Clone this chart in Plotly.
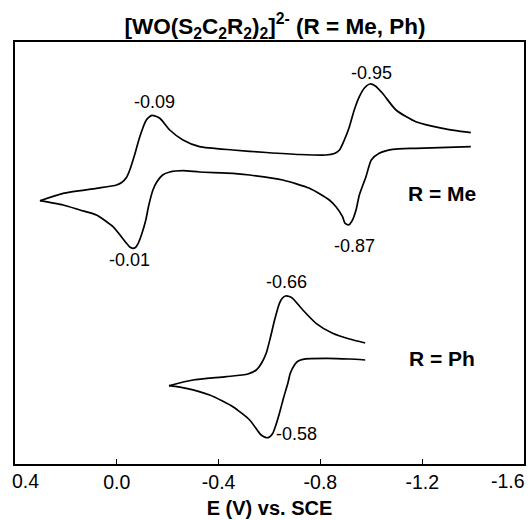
import plotly.graph_objects as go

# Potentials (V vs SCE) and current (arbitrary units)
me_fwd_E = [0.302, 0.211, 0.080, 0.001, -0.019, -0.038, -0.051, -0.071, -0.090, -0.116, -0.138, -0.169, -0.208,
            -0.260, -0.325, -0.456, -0.587, -0.718, -0.822, -0.855, -0.875, -0.894, -0.914, -0.933,
            -0.953, -0.973, -0.995, -1.016, -1.044, -1.097, -1.175, -1.280, -1.391]
me_fwd_I = [263.3, 270.7, 275.7, 279, 281.5, 286.5, 294, 310, 327, 344, 348.7, 345.7, 334,
            324, 317.3, 314, 311.5, 309.5, 309, 310.5, 314, 324, 337.3, 354,
            367.3, 376, 380, 378, 370.7, 354, 342.3, 335.7, 331.3]
me_rev_E = [-1.391, -1.175, -1.084, -1.031, -1.000, -0.979, -0.953, -0.940, -0.924, -0.910, -0.896,
            -0.887, -0.862, -0.835, -0.757, -0.652, -0.522, -0.456, -0.325, -0.260, -0.208, -0.180,
            -0.157, -0.142, -0.125, -0.114, -0.098, -0.084, -0.073, -0.063, -0.051, -0.038, 0.015,
            0.080, 0.145, 0.211, 0.302]
me_rev_I = [317.3, 315.7, 314.7, 310.7, 304, 287.3, 269, 254, 243, 239, 241,
            247.3, 257, 264, 275.7, 284, 289, 290.7, 292, 293.3, 292, 289,
            282, 274, 258, 244, 230, 220.7, 216.5, 215.7, 217, 220.7, 237.3,
            249, 254, 259, 263.3]

ph_fwd_E = [-0.205, -0.299, -0.430, -0.515, -0.548, -0.569, -0.587, -0.604, -0.620, -0.639, -0.651,
            -0.663, -0.678, -0.691, -0.731, -0.783, -0.848, -0.914, -0.976]
ph_fwd_I = [78.3, 84, 87.3, 90, 94, 101, 110.7, 127, 144, 160.7, 166,
            168, 167.5, 165.7, 154, 140.7, 130.7, 125, 121]
ph_rev_E = [-0.976, -0.914, -0.822, -0.731, -0.710, -0.698, -0.682, -0.672, -0.655, -0.639, -0.624,
            -0.613, -0.600, -0.587, -0.573, -0.561, -0.522, -0.456, -0.365, -0.273, -0.205]
ph_rev_I = [104, 105, 105.7, 104.7, 102.5, 99, 91, 80.7, 66, 50.7, 38,
            30.7, 27, 26.3, 28, 30.7, 44, 57.3, 69, 75.7, 78.3]

peak_labels = ["-0.09", "-0.95", "-0.01", "-0.87", "-0.66", "-0.58"]
peak_E = [-0.149, -1.000, -0.051, -0.933, -0.667, -0.706]
peak_I = [362, 391, 204, 218, 182, 30]

series_labels = ["R = Me", "R = Ph"]
series_E = [-1.278, -1.278]
series_I = [271, 106]

tick_vals = [0.4, 0.0, -0.4, -0.8, -1.2, -1.6]
tick_text = ["0.4", "0.0", "-0.4", "-0.8", "-1.2", "-1.6"]

FONT = "Arial, Liberation Sans, Helvetica, sans-serif"

fig = go.Figure()
for E, I in [(me_fwd_E, me_fwd_I), (me_rev_E, me_rev_I), (ph_fwd_E, ph_fwd_I), (ph_rev_E, ph_rev_I)]:
    fig.add_trace(go.Scatter(x=E, y=I, mode="lines",
                             line=dict(color="black", width=1.7, shape="spline", smoothing=0.6),
                             showlegend=False, hoverinfo="skip"))

for t, x, y in zip(peak_labels, peak_E, peak_I):
    fig.add_annotation(x=x, y=y, text=t, showarrow=False,
                       font=dict(family=FONT, size=18, color="black"))
for t, x, y in zip(series_labels, series_E, series_I):
    fig.add_annotation(x=x, y=y, text="<b>" + t + "</b>", showarrow=False,
                       font=dict(family=FONT, size=21, color="black"))

# The two end tick labels are kept inside the figure (as in the original), anchored at their ticks
inner_text = [""] + tick_text[1:-1] + [""]
fig.add_annotation(x=tick_vals[0], xref="x", y=0, yref="paper", yanchor="top", xanchor="left",
                   xshift=-5, yshift=-4, text=tick_text[0], showarrow=False,
                   font=dict(family=FONT, size=19.5, color="black"))
fig.add_annotation(x=tick_vals[-1], xref="x", y=0, yref="paper", yanchor="top", xanchor="right",
                   xshift=3, yshift=-4, text=tick_text[-1], showarrow=False,
                   font=dict(family=FONT, size=19.5, color="black"))

fig.update_layout(
    width=532, height=520,
    margin=dict(l=15, r=8, t=42, b=56, autoexpand=False),
    paper_bgcolor="white", plot_bgcolor="white",
    font=dict(family=FONT, color="black"),
    title=dict(text="<b>[WO(S<sub>2</sub>C<sub>2</sub>R<sub>2</sub>)<sub>2</sub>]<sup>2-</sup> (R = Me, Ph)</b>",
               x=275 / 532, xanchor="center", xref="container",
               y=1 - 26 / 520, yanchor="middle", yref="container",
               font=dict(family=FONT, size=22.5, color="black")),
    xaxis=dict(range=[0.4, -1.6], tickmode="array", tickvals=tick_vals, ticktext=inner_text,
               ticks="inside", ticklen=5, tickwidth=1.2, tickcolor="black",
               automargin=False,
               showline=True, linecolor="black", linewidth=1.5, mirror=True,
               showgrid=False, zeroline=False,
               tickfont=dict(family=FONT, size=19.5, color="black"),
               title=dict(text="<b>E (V) vs. SCE</b>", standoff=9,
                          font=dict(family=FONT, size=20, color="black"))),
    yaxis=dict(range=[0, 422], showticklabels=False, ticks="", automargin=False,
               showline=True, linecolor="black", linewidth=1.5, mirror=True,
               showgrid=False, zeroline=False),
)

fig.write_html("out.html", config={"displayModeBar": False},
               post_script="document.body.style.margin='0';document.body.style.overflow='hidden';")
